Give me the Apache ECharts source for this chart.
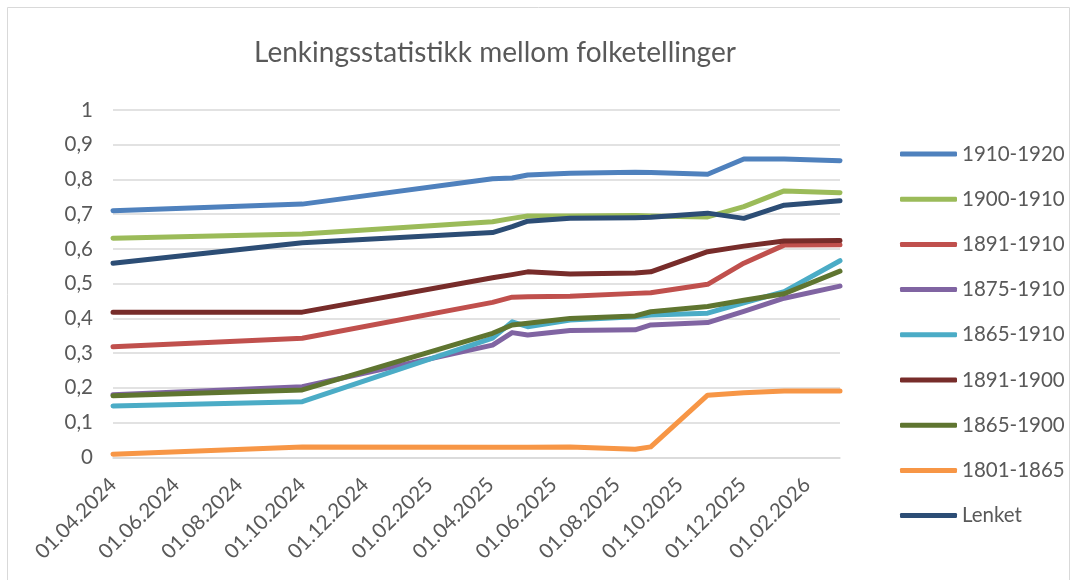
<!DOCTYPE html>
<html>
<head>
<meta charset="utf-8">
<script src="https://cdn.jsdelivr.net/npm/echarts@6/dist/echarts.min.js"></script>
<style>
  html, body { margin: 0; padding: 0; background: #ffffff; }
  #chart { width: 1077px; height: 580px; }
</style>
</head>
<body>
<div id="chart"></div>
<script>
// Survey dates (dd.mm.yyyy shown on the axis)
const dates = ['2024-04-01', '2024-10-01', '2025-04-03', '2025-04-22', '2025-05-07', '2025-06-17',
               '2025-08-19', '2025-09-03', '2025-10-28', '2025-12-02', '2026-01-10', '2026-03-05'];

// Axis label dates, every second month
const tickDates = ['2024-04-01', '2024-06-01', '2024-08-01', '2024-10-01', '2024-12-01', '2025-02-01',
                   '2025-04-01', '2025-06-01', '2025-08-01', '2025-10-01', '2025-12-01', '2026-02-01'];

// Share of linked persons between censuses
const s1910_1920 = [0.710, 0.729, 0.802, 0.804, 0.813, 0.818, 0.821, 0.820, 0.815, 0.859, 0.859, 0.854];
const s1900_1910 = [0.631, 0.643, 0.678, 0.688, 0.695, 0.695, 0.696, 0.695, 0.692, 0.722, 0.767, 0.762];
const s1891_1910 = [0.318, 0.343, 0.446, 0.461, 0.462, 0.464, 0.472, 0.474, 0.498, 0.559, 0.611, 0.612];
const s1875_1910 = [0.180, 0.203, 0.323, 0.359, 0.352, 0.365, 0.367, 0.381, 0.388, 0.420, 0.458, 0.493];
const s1865_1910 = [0.148, 0.160, 0.343, 0.390, 0.376, 0.395, 0.405, 0.410, 0.415, 0.445, 0.477, 0.566];
const s1891_1900 = [0.418, 0.418, 0.517, 0.526, 0.534, 0.528, 0.531, 0.534, 0.592, 0.608, 0.623, 0.624];
const s1865_1900 = [0.177, 0.194, 0.357, 0.381, 0.386, 0.400, 0.407, 0.419, 0.434, 0.452, 0.471, 0.536];
const s1801_1865 = [0.009, 0.030, 0.029, 0.029, 0.029, 0.030, 0.023, 0.030, 0.179, 0.186, 0.191, 0.191];
const sLenket    = [0.559, 0.618, 0.647, 0.664, 0.680, 0.688, 0.690, 0.691, 0.703, 0.688, 0.726, 0.739];

const seriesDefs = [
  { name: '1910-1920', data: s1910_1920, color: '#4F81BD' },
  { name: '1900-1910', data: s1900_1910, color: '#9BBB59' },
  { name: '1891-1910', data: s1891_1910, color: '#C0504D' },
  { name: '1875-1910', data: s1875_1910, color: '#8064A2' },
  { name: '1865-1910', data: s1865_1910, color: '#4BACC6' },
  { name: '1891-1900', data: s1891_1900, color: '#772C2A' },
  { name: '1865-1900', data: s1865_1900, color: '#5F7530' },
  { name: '1801-1865', data: s1801_1865, color: '#F79646' },
  { name: 'Lenket',    data: sLenket,    color: '#2C4D75' }
];

// Dates are plotted as day numbers on a linear axis
const DAY = 86400000;
function toDay(s) {
  const p = s.split('-').map(Number);
  return Math.round(Date.UTC(p[0], p[1] - 1, p[2]) / DAY);
}
function pad(n) { return (n < 10 ? '0' : '') + n; }
function fmtDay(v) {
  const d = new Date(Math.round(v) * DAY);
  return pad(d.getUTCDate()) + '.' + pad(d.getUTCMonth() + 1) + '.' + d.getUTCFullYear();
}

const FONT = 'Lato, "Open Sans", sans-serif';
const GREY_TEXT = '#595959';

const chart = echarts.init(document.getElementById('chart'), null, { renderer: 'canvas' });

chart.setOption({
  animation: false,
  backgroundColor: '#ffffff',
  title: {
    text: 'Lenkingsstatistikk mellom folketellinger',
    left: 490,
    top: 34,
    textAlign: 'center',
    textStyle: { fontFamily: FONT, fontSize: 28, fontWeight: 'normal', color: GREY_TEXT }
  },
  graphic: [{
    type: 'rect',
    shape: { x: 7.5, y: 7.5, width: 1062, height: 580 },
    style: { fill: 'none', stroke: '#d9d9d9', lineWidth: 1 },
    silent: true
  }],
  legend: {
    orient: 'vertical',
    left: 900,
    top: 143,
    padding: 0,
    itemWidth: 57,
    itemHeight: 5,
    itemGap: 23.2,
    icon: 'roundRect',
    textStyle: { fontFamily: FONT, fontSize: 20.5, color: GREY_TEXT, lineHeight: 22 },
    data: seriesDefs.map(s => s.name)
  },
  grid: { left: 113, right: 237, top: 110, bottom: 122.7, containLabel: false },
  xAxis: {
    type: 'value',
    min: toDay(dates[0]),
    max: toDay(dates[dates.length - 1]),
    axisLine: { show: true, lineStyle: { color: '#d9d9d9', width: 1.5 } },
    axisTick: { show: false },
    splitLine: { show: false },
    axisLabel: {
      customValues: tickDates.map(toDay),
      formatter: v => fmtDay(v),
      rotate: 45,
      margin: 24,
      fontFamily: FONT,
      fontSize: 20.5,
      color: GREY_TEXT,
      hideOverlap: false
    }
  },
  yAxis: {
    type: 'value',
    min: 0,
    max: 1,
    interval: 0.1,
    axisLine: { show: false },
    axisTick: { show: false },
    splitLine: { lineStyle: { color: '#d9d9d9', width: 1.5 } },
    axisLabel: {
      margin: 20,
      fontFamily: FONT,
      fontSize: 20.5,
      color: GREY_TEXT,
      formatter: v => String(Math.round(v * 10) / 10).replace('.', ',')
    }
  },
  series: seriesDefs.map(s => ({
    name: s.name,
    type: 'line',
    showSymbol: false,
    symbol: 'none',
    color: s.color,
    lineStyle: { width: 5, color: s.color, cap: 'round', join: 'round' },
    itemStyle: { color: s.color },
    data: s.data.map((v, i) => [toDay(dates[i]), v])
  }))
});
</script>
</body>
</html>
